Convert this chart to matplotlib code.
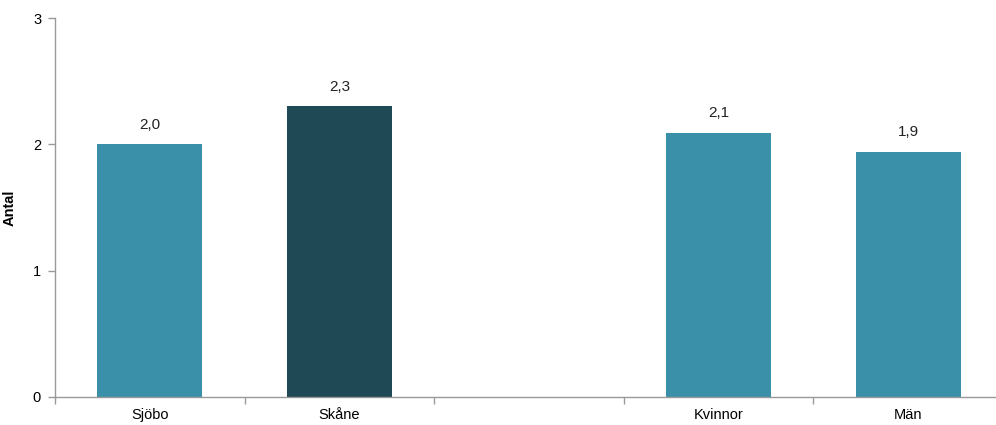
import numpy as np
import matplotlib.pyplot as plt

plt.rcParams['font.family'] = ['Liberation Sans', 'DejaVu Sans']

categories = ['Sjöbo', 'Skåne', '', 'Kvinnor', 'Män']
values = [2.0, 2.3, np.nan, 2.09, 1.94]
labels = ['2,0', '2,3', '', '2,1', '1,9']
colors = ['#3a90a8', '#1f4955', '#3a90a8', '#3a90a8', '#3a90a8']

fig = plt.figure(figsize=(9.96, 4.25), dpi=100)
ax = fig.add_axes([55 / 996, 28 / 425, 948 / 996, 379 / 425])

x = np.arange(len(categories))
heights = [0 if np.isnan(v) else v for v in values]
ax.bar(x, heights, width=0.555, color=colors, zorder=2)

for xi, v, lab in zip(x, values, labels):
    if lab:
        ax.text(xi, v + 0.1, lab, ha='center', va='bottom', fontsize=11, color='#222222')

ax.set_xlim(-0.5, len(categories) - 0.5)
ax.set_ylim(0, 3)
ax.set_yticks([0, 1, 2, 3])
ax.set_yticklabels(['0', '1', '2', '3'])
ax.set_xticks(x)
ax.set_xticklabels(categories)
ax.set_xticks(np.arange(len(categories) + 1) - 0.5, minor=True)
ax.tick_params(axis='x', which='major', length=0, pad=8, labelsize=10.5)
ax.tick_params(axis='x', which='minor', length=5, color='#999999', width=1)
ax.tick_params(axis='y', length=5, color='#999999', width=1, labelsize=10.5, pad=5)

for s in ['top', 'right']:
    ax.spines[s].set_visible(False)
for s in ['left', 'bottom']:
    ax.spines[s].set_color('#999999')
    ax.spines[s].set_linewidth(1)

ax.set_ylabel('Antal', fontweight='bold', fontsize=10.5)
ax.yaxis.set_label_coords(-0.040, 0.5)

fig.savefig('out.png', dpi=100)
